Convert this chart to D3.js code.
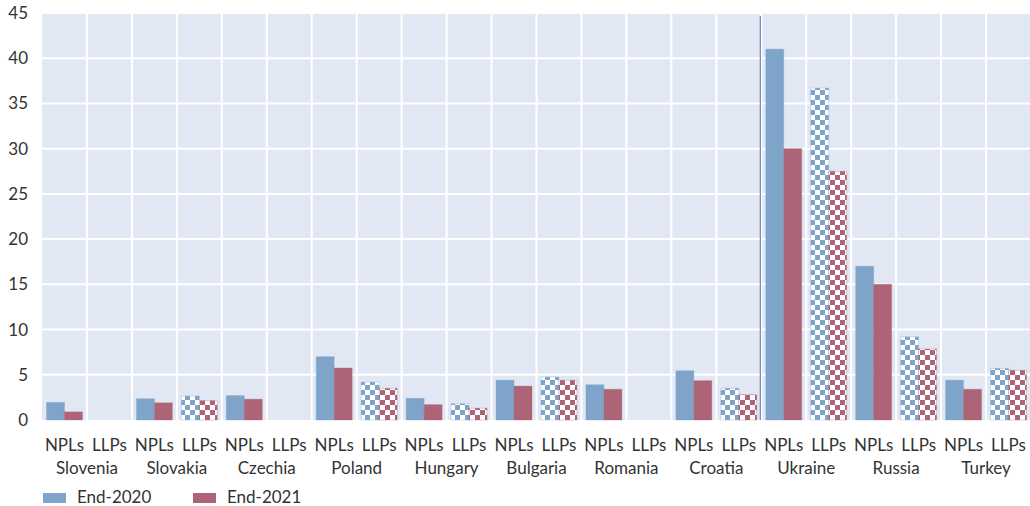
<!DOCTYPE html>
<html><head><meta charset="utf-8">
<script src="https://cdn.jsdelivr.net/npm/d3@7"></script>
<style>
body{margin:0;background:#fff;}
text{font-family:Lato,"Open Sans",sans-serif;fill:#333;}
</style></head>
<body><svg id="c" width="1030" height="506"></svg>
<script>
const countries = ["Slovenia","Slovakia","Czechia","Poland","Hungary","Bulgaria","Romania","Croatia","Ukraine","Russia","Turkey"];
const measures = ["NPLs","LLPs"];
const seriesNames = ["End-2020","End-2021"];
// values per country: [NPLs, LLPs], null = not available
const end2020NPL = [1.95, 2.35, 2.7, 7.0, 2.4, 4.4, 3.9, 5.45, 41.0, 17.0, 4.4];
const end2021NPL = [0.9, 1.9, 2.3, 5.75, 1.7, 3.75, 3.4, 4.35, 30.0, 15.0, 3.4];
const end2020LLP = [null, 2.65, null, 4.2, 1.8, 4.75, null, 3.5, 36.7, 9.2, 5.7];
const end2021LLP = [null, 2.15, null, 3.5, 1.3, 4.4, null, 2.8, 27.5, 7.85, 5.5];
const yTicks = [0,5,10,15,20,25,30,35,40,45];

const colors = ["#7fa4ca","#ad6477"];
const svg = d3.select("#c");
const mL = 42, mR = 1031, mT = 13, mB = 420;

const cats = [];
countries.forEach((c,i)=>measures.forEach(m=>cats.push({country:c, measure:m, idx:i})));
const x = d3.scaleBand().domain(d3.range(cats.length)).range([mL,mR]).paddingInner(0).paddingOuter(0);
const x1 = d3.scaleBand().domain([0,1]).range([0,x.bandwidth()]).paddingOuter(0.25).paddingInner(0);
const y = d3.scaleLinear().domain([0,45]).range([mB,mT]);

// patterns
const defs = svg.append("defs");
colors.forEach((col,k)=>{
  const p = defs.append("pattern").attr("id","chk"+k).attr("patternUnits","userSpaceOnUse")
    .attr("width",10).attr("height",10).attr("x",0).attr("y",0);
  p.append("rect").attr("width",10).attr("height",10).attr("fill","#fff");
  p.append("rect").attr("x",0).attr("y",0).attr("width",5).attr("height",5).attr("fill",col);
  p.append("rect").attr("x",5).attr("y",5).attr("width",5).attr("height",5).attr("fill",col);
});

svg.append("rect").attr("x",mL).attr("y",mT).attr("width",mR-mL).attr("height",mB-mT).attr("fill","#e1e8f4");

// grid
svg.append("g").selectAll("line").data(yTicks.slice(1)).join("line")
  .attr("x1",mL).attr("x2",mR).attr("y1",d=>y(d)).attr("y2",d=>y(d))
  .attr("stroke","#fff").attr("stroke-width",2);
svg.append("g").selectAll("line").data(d3.range(1,cats.length)).join("line")
  .attr("x1",d=>x(d)).attr("x2",d=>x(d)).attr("y1",mT).attr("y2",mB)
  .attr("stroke","#fff").attr("stroke-width",2);

// bars
const barData = [];
cats.forEach((c,j)=>{
  const vals = c.measure==="NPLs" ? [end2020NPL[c.idx], end2021NPL[c.idx]] : [end2020LLP[c.idx], end2021LLP[c.idx]];
  vals.forEach((v,k)=>{ if(v!=null) barData.push({j,k,v,measure:c.measure}); });
});
svg.append("g").selectAll("rect").data(barData).join("rect")
  .attr("x",d=>x(d.j)+x1(d.k)).attr("width",x1.bandwidth())
  .attr("y",d=>y(d.v)).attr("height",d=>y(0)-y(d.v))
  .attr("fill",d=>d.measure==="NPLs"?colors[d.k]:`url(#chk${d.k})`)
  .attr("stroke",d=>colors[d.k]).attr("stroke-opacity",0.35).attr("stroke-width",1);

// separator line before Ukraine
const sepIdx = countries.indexOf("Ukraine")*2;
svg.append("line").attr("x1",x(sepIdx)-1).attr("x2",x(sepIdx)-1).attr("y1",mT+3).attr("y2",mB)
  .attr("stroke","#4f73a3").attr("stroke-width",1);

// y axis labels
svg.append("g").selectAll("text").data(yTicks).join("text")
  .attr("x",28).attr("y",d=>y(d)).attr("dy","0.35em").attr("text-anchor","end")
  .attr("font-size",17).text(d=>d);

// x labels
svg.append("g").selectAll("text").data(cats).join("text")
  .attr("x",(d,j)=>x(j)+x.bandwidth()/2).attr("y",451).attr("text-anchor","middle")
  .attr("font-size",17).text(d=>d.measure);
svg.append("g").selectAll("text").data(countries).join("text")
  .attr("x",(d,i)=>x(i*2+1)).attr("y",474).attr("text-anchor","middle")
  .attr("font-size",17).text(d=>d);

// legend
const lg = svg.append("g");
seriesNames.forEach((s,k)=>{
  const lx = 43 + k*150;
  lg.append("rect").attr("x",lx).attr("y",493).attr("width",23).attr("height",10).attr("fill",colors[k]);
  lg.append("text").attr("x",lx+34).attr("y",503).attr("font-size",17).text(s);
});
</script></body></html>
